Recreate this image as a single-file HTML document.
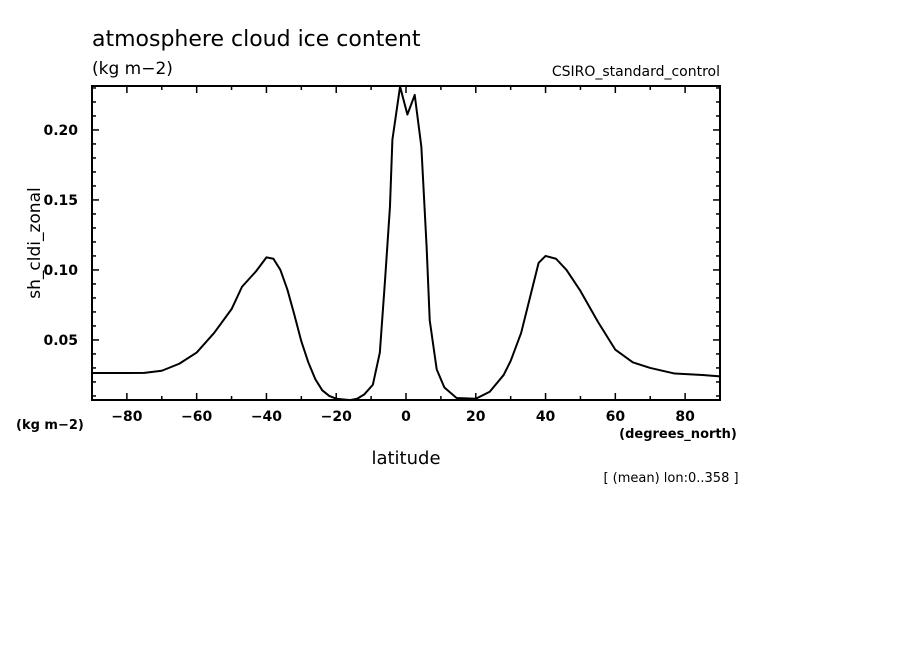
<!DOCTYPE html>
<html><head><meta charset="utf-8"><style>
body{margin:0;background:#fff;width:904px;height:654px;overflow:hidden}
text{font-family:"DejaVu Sans","Liberation Sans",sans-serif;fill:#000}
</style></head><body>
<svg id="chart" width="904" height="654" xmlns="http://www.w3.org/2000/svg">
<text x="92" y="46" font-size="22">atmosphere cloud ice content</text>
<text x="92" y="74" font-size="17">(kg m−2)</text>
<text x="720" y="76" font-size="14" text-anchor="end">CSIRO_standard_control</text>
<text transform="translate(40,243) rotate(-90)" font-size="17" text-anchor="middle">sh_cldi_zonal</text>
<text x="16" y="429" font-size="13" font-weight="bold">(kg m−2)</text>
<text x="406" y="464" font-size="18" text-anchor="middle">latitude</text>
<text x="678" y="438" font-size="13" font-weight="bold" text-anchor="middle">(degrees_north)</text>
<text x="671" y="482" font-size="13" text-anchor="middle">[ (mean) lon:0..358 ]</text>
<g id="axes"></g>
<rect x="92" y="86" width="628" height="314" fill="none" stroke="#000" stroke-width="2"/>
</svg>
<script>
const lats=[-90,-80,-75,-70,-65,-60,-55,-50,-47,-43,-40,-38,-36,-34,-32,-30,-28,-26,-24,-22,-20,-16,-14,-12,-9.5,-7.5,-6,-4.6,-3.9,-1.7,0.4,2.5,4.4,5.9,6.8,8.8,11,14.5,20,24,28,30,33,36,38,40,43,46,50,55,60,65,70,77,85,90];
const vals=[0.0264,0.0264,0.0265,0.028,0.033,0.041,0.055,0.072,0.088,0.099,0.109,0.108,0.100,0.086,0.068,0.049,0.034,0.022,0.014,0.010,0.008,0.007,0.008,0.011,0.018,0.041,0.093,0.145,0.193,0.231,0.211,0.225,0.188,0.117,0.064,0.029,0.016,0.0085,0.008,0.013,0.025,0.035,0.055,0.085,0.105,0.110,0.108,0.100,0.085,0.063,0.043,0.034,0.030,0.026,0.025,0.024];
const xTicks=[-80,-60,-40,-20,0,20,40,60,80];
const xTickLabels=["−80","−60","−40","−20","0","20","40","60","80"];
const yTicks=[0.05,0.10,0.15,0.20];
const yTickLabels=["0.05","0.10","0.15","0.20"];
const X0=92,X1=720,Y0=400,Y1=86,xmin=-90,xmax=90,ymin=0.0071,ymax=0.2314;
const xs=v=>X0+(v-xmin)/(xmax-xmin)*(X1-X0);
const ys=v=>Y0-(v-ymin)/(ymax-ymin)*(Y0-Y1);
const NS="http://www.w3.org/2000/svg",g=document.getElementById('axes');
function mk(t,a){const e=document.createElementNS(NS,t);for(const k in a)e.setAttribute(k,a[k]);g.appendChild(e);return e;}
for(let v=-80;v<=80;v+=10){const x=xs(v),L=v%20===0?7:4;
const t1=mk('line',{x1:x,x2:x,y1:Y0,y2:Y0-L,stroke:'#000','stroke-width':1.5});


const t2=mk('line',{x1:x,x2:x,y1:Y1,y2:Y1+L,stroke:'#000','stroke-width':1.5});

}
xTicks.forEach((v,i)=>{const t=mk('text',{x:xs(v),y:Y0+21,'font-size':14,'font-weight':'bold','text-anchor':'middle'});t.textContent=xTickLabels[i];

});
for(let k=1;k<=23;k++){const v=k/100;if(v<ymin||v>ymax)continue;const y=ys(v),L=(k%5===0)?7:4;
const t1=mk('line',{x1:X0,x2:X0+L,y1:y,y2:y,stroke:'#000','stroke-width':1.5});


const t2=mk('line',{x1:X1,x2:X1-L,y1:y,y2:y,stroke:'#000','stroke-width':1.5});

}
yTicks.forEach((v,i)=>{const t=mk('text',{x:X0-14,y:ys(v)+5,'font-size':14,'font-weight':'bold','text-anchor':'end'});t.textContent=yTickLabels[i];

});
const p=mk('polyline',{points:lats.map((l,i)=>xs(l)+','+ys(vals[i])).join(' '),fill:'none',stroke:'#000','stroke-width':2,'stroke-linejoin':'round'});


</script>
</body></html>
